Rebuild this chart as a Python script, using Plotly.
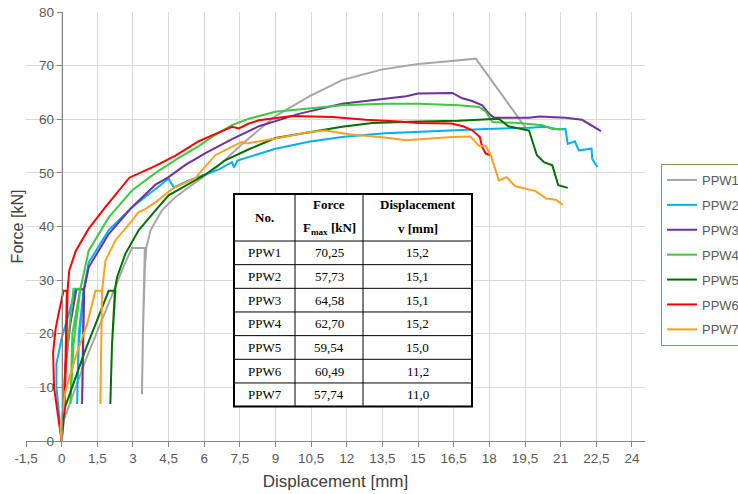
import plotly.graph_objects as go

# ---------------- data ----------------
series_names = ["PPW1", "PPW2", "PPW3", "PPW4", "PPW5", "PPW6", "PPW7"]
series_colors = ["#a6a6a6", "#00b0f0", "#7030a0", "#40c840", "#007000", "#ff0000", "#ffa020"]

ppw1_x = [0, 0.1, 1.0, 2.0, 2.33, 2.65, 2.96, 3.5, 3.42, 3.38, 3.42, 3.5, 3.56, 3.74, 4.22, 4.79, 5.35,
          6.05, 6.6, 7.6, 9.0, 10.4, 11.8, 13.5, 15.0, 16.3, 17.43, 19.53]
ppw1_y = [0, 4, 15, 26, 29.7, 33, 36, 36, 20, 8.7, 20, 32, 36, 39.3, 43, 45.5, 47.3,
          49.4, 51.3, 55.4, 60.6, 64.2, 67.3, 69.3, 70.3, 70.8, 71.3, 58.4]

ppw2_x = [0, -0.12, -0.22, -0.22, -0.1, 0.01, 0.3, 0.58, 0.93, 0.72, 0.65, 0.72, 0.93, 1.14, 1.98, 2.96,
          3.95, 4.5, 4.72, 5.35, 6.05, 6.6, 7.17, 7.25, 7.4, 7.88, 9.0, 10.4, 11.8, 13.6, 15.46, 17.85,
          19.67, 20.4, 20.9, 21.2, 21.3, 21.6, 21.76, 22.3, 22.33, 22.55]
ppw2_y = [0, 5, 10, 14.4, 17, 19.3, 23.7, 28.3, 28.3, 20, 6.9, 18, 28.3, 33.3, 39.3, 43.6,
          47, 48.9, 47.3, 48.6, 49.7, 50.6, 52.0, 51.0, 52.3, 53, 54.5, 55.8, 56.7, 57.4, 57.8, 58.2,
          58.4, 58.6, 58.1, 58.2, 55.4, 55.9, 54.2, 54.5, 52.6, 51.1]

ppw3_x = [0, 0.08, 0.16, 0.37, 0.62, 0.93, 0.9, 0.86, 0.9, 0.95, 1.14, 1.98, 2.96, 3.95, 4.5, 5.21,
          6.05, 7.17, 8.3, 9.98, 11.8, 12.8, 13.6, 14.5, 15.0, 16.44, 16.86, 17.28, 17.7, 17.99, 18.2,
          19.67, 20.1, 21.2, 21.9, 22.7]
ppw3_y = [0, 7, 14.4, 21.9, 28.3, 28.3, 18, 6.9, 18, 28.3, 32.4, 38.6, 43.6, 47.8, 49.2, 51.5,
          53.7, 56.3, 58.7, 61, 62.9, 63.4, 63.9, 64.3, 64.8, 64.9, 63.9, 63.4, 62.6, 61, 60.3,
          60.3, 60.5, 60.3, 59.9, 57.8]

ppw4_x = [0, 0.1, 0.3, 0.5, 0.78, 0.45, 0.37, 0.5, 0.79, 0.86, 1.14, 1.98, 2.96, 3.95, 4.93, 5.77,
          6.33, 7.17, 7.88, 9.0, 10.4, 11.8, 13.6, 15.04, 16.7, 17.57, 17.85, 18.13, 19.25, 20.23,
          20.65, 21.07]
ppw4_y = [0, 10, 20, 28.4, 28.4, 20, 6.9, 18, 28.4, 29.9, 35.5, 41.7, 46.7, 50, 52.8, 55,
          56.7, 58.9, 60.1, 61.4, 62, 62.6, 62.9, 62.9, 62.6, 62.3, 61.4, 59.5, 59.3, 58.9,
          58.2, 58.2]

ppw5_x = [0, 0.12, 1.0, 1.98, 2.26, 2.12, 2.05, 2.12, 2.24, 2.33, 2.68, 3.24, 3.95, 4.5, 5.3, 6.05,
          6.9, 7.88, 9.0, 10.4, 11.8, 13.07, 15.04, 16.7, 18.4, 18.8, 19.67, 20.0, 20.3, 20.65, 20.9,
          21.3]
ppw5_y = [0, 6, 17, 28, 28, 18, 6.9, 18, 28, 30.5, 34.9, 39.3, 43, 45.8, 47.8, 49.7,
          52.4, 54.4, 56.5, 57.6, 58.6, 59.3, 59.6, 59.7, 60.1, 58.7, 57.9, 53.3, 52, 51.4, 47.7,
          47.2]

ppw6_x = [0, -0.15, -0.32, -0.36, -0.25, -0.13, 0.0, 0.08, 0.22, 0.18, 0.12, 0.2, 0.25, 0.32, 0.6,
          1.14, 1.84, 2.54, 2.85, 3.95, 4.79, 5.3, 5.77, 6.33, 7.17, 7.46, 7.88, 8.3, 9.7, 11.4, 12.8,
          14.2, 15.04, 16.4, 16.9, 17.3, 17.6, 17.7, 17.85, 18.06]
ppw6_y = [0, 5, 10, 16.5, 21, 23.7, 26.5, 28, 28, 18, 5, 18, 28, 31.8, 35.5,
          39.6, 43.6, 47.3, 49.1, 51.3, 53.2, 54.6, 55.9, 57, 58.6, 58.3, 59.2, 59.8, 60.6, 60.4, 59.9,
          59.6, 59.3, 59.2, 58.7, 57.9, 56.7, 54.8, 53.6, 53.3]

ppw7_x = [0, -0.05, 0.16, 0.58, 1.07, 1.42, 1.7, 1.66, 1.63, 1.67, 1.7, 1.84, 2.26, 2.96, 3.24, 3.5,
          3.95, 4.65, 5.63, 5.77, 6.1, 6.47, 7.17, 7.46, 7.6, 7.8, 9.0, 10.4, 11.1, 12.09, 13.6, 14.5,
          15.04, 16.44, 17.2, 17.57, 17.85, 18.06, 18.4, 18.72, 19.1, 19.95, 20.4, 20.8, 21.1]
ppw7_y = [0, 2.5, 9.3, 15.6, 21.8, 28, 28, 18, 6.9, 18, 28, 33.6, 37.4, 41.1, 42.7, 43.2,
          44.5, 47, 49, 49.8, 51.5, 53.3, 54.9, 55.6, 55.8, 55.5, 56.4, 57.6, 57.9, 57.2, 56.6, 56.1,
          56.3, 56.7, 56.8, 55, 55, 53.3, 48.6, 49.2, 47.5, 46.6, 45.2, 45, 44]

series_x = [ppw1_x, ppw2_x, ppw3_x, ppw4_x, ppw5_x, ppw6_x, ppw7_x]
series_y = [ppw1_y, ppw2_y, ppw3_y, ppw4_y, ppw5_y, ppw6_y, ppw7_y]

x_tickvals = [-1.5, 0, 1.5, 3, 4.5, 6, 7.5, 9, 10.5, 12, 13.5, 15, 16.5, 18, 19.5, 21, 22.5, 24]
x_ticktext = ["-1,5", "0", "1,5", "3", "4,5", "6", "7,5", "9", "10,5", "12", "13,5", "15", "16,5",
              "18", "19,5", "21", "22,5", "24"]
y_tickvals = [0, 10, 20, 30, 40, 50, 60, 70, 80]

table_no = ["PPW1", "PPW2", "PPW3", "PPW4", "PPW5", "PPW6", "PPW7"]
table_fmax = ["70,25", "57,73", "64,58", "62,70", "59,54", "60,49", "57,74"]
table_disp = ["15,2", "15,1", "15,1", "15,2", "15,0", "11,2", "11,0"]

# ---------------- figure ----------------
X_MIN, X_MAX = -1.5, 24.55
L, R, T, B = 26, 645, 12, 441      # plot area, pixels
W, H = R - L, B - T
FIG_W, FIG_H = 738, 494

fig = go.Figure()
for i, name in enumerate(series_names):
    fig.add_trace(go.Scatter(
        x=series_x[i], y=series_y[i], mode="lines", name=name,
        legendgroup=name,
        line=dict(color=series_colors[i], width=2),
    ))

axis_col = "#868686"
grid_col = "#d9d9d9"
tick_font = dict(family="Liberation Sans", size=13.5, color="#595959")

fig.update_layout(
    width=FIG_W, height=FIG_H,
    margin=dict(l=L, r=FIG_W - R, t=T, b=FIG_H - B, autoexpand=False),
    paper_bgcolor="white", plot_bgcolor="white",
    showlegend=True,
    xaxis=dict(
        range=[X_MIN, X_MAX], tickvals=x_tickvals, ticktext=x_ticktext,
        showgrid=True, gridcolor=grid_col, gridwidth=1,
        showline=True, linecolor=axis_col, linewidth=1,
        ticks="outside", ticklen=5, tickcolor=axis_col,
        zeroline=False, tickfont=tick_font,
        title=dict(text="Displacement [mm]", standoff=9,
                   font=dict(family="Liberation Sans", size=17, color="#404040")),
    ),
    yaxis=dict(
        range=[0, 80], tickvals=y_tickvals,
        anchor="free", position=(0 - X_MIN) / (X_MAX - X_MIN),
        showgrid=True, gridcolor=grid_col, gridwidth=1,
        showline=True, linecolor=axis_col, linewidth=1,
        ticks="outside", ticklen=5, tickcolor=axis_col,
        zeroline=False, tickfont=tick_font,
        title=dict(text="Force [kN]", standoff=10,
                   font=dict(family="Liberation Sans", size=16, color="#404040")),
    ),
    legend=dict(
        x=(661 - L) / W, y=(B - 164) / H, xanchor="left", yanchor="top",
        bordercolor="#77a05a", borderwidth=1, bgcolor="white",
        font=dict(family="Liberation Sans", size=13, color="#595959"),
        traceorder="grouped", tracegroupgap=5,
    ),
)

# ---------------- table (drawn in paper coords) ----------------
def xp(px):
    return (px - L) / W

def yp(py):
    return (B - py) / H

col_edges = [234, 295, 363, 472]
tab_top, head_bot = 194, 241
row_h = 23.66
tab_bot = head_bot + row_h * len(table_no)

shapes = [dict(type="rect", xref="paper", yref="paper",
               x0=xp(col_edges[0]), x1=xp(col_edges[-1]), y0=yp(tab_bot), y1=yp(tab_top),
               fillcolor="white", line=dict(color="black", width=2), layer="above")]
for cx in col_edges[1:-1]:
    shapes.append(dict(type="line", xref="paper", yref="paper",
                       x0=xp(cx), x1=xp(cx), y0=yp(tab_bot), y1=yp(tab_top),
                       line=dict(color="black", width=1), layer="above"))
for r in range(len(table_no)):
    ry = head_bot + r * row_h
    shapes.append(dict(type="line", xref="paper", yref="paper",
                       x0=xp(col_edges[0]), x1=xp(col_edges[-1]), y0=yp(ry), y1=yp(ry),
                       line=dict(color="black", width=1), layer="above"))
fig.update_layout(shapes=shapes)

serif = dict(family="Liberation Serif", size=13, color="black")
centers = [(col_edges[i] + col_edges[i + 1]) / 2 for i in range(3)]
ann = []
def add_text(txt, px, py):
    ann.append(dict(text=txt, x=xp(px), y=yp(py), xref="paper", yref="paper",
                    showarrow=False, xanchor="center", yanchor="middle", font=serif))

add_text("<b>No.</b>", centers[0], (tab_top + head_bot) / 2)
add_text("<b>Force</b>", centers[1], tab_top + 10)
add_text("<b>F<sub>max</sub> [kN]</b>", centers[1], tab_top + 34)
add_text("<b>Displacement</b>", centers[2], tab_top + 10)
add_text("<b>v [mm]</b>", centers[2], tab_top + 34)
for r in range(len(table_no)):
    cy = head_bot + (r + 0.5) * row_h
    add_text(table_no[r], centers[0], cy)
    add_text(table_fmax[r], centers[1], cy)
    add_text(table_disp[r], centers[2], cy)
fig.update_layout(annotations=ann)

# remove the browser's default 8px body margin so the figure fills the window exactly
fig.write_html("out.html",
               config={"displayModeBar": False},
               post_script="document.body.style.margin='0px';document.body.style.overflow='hidden';")
